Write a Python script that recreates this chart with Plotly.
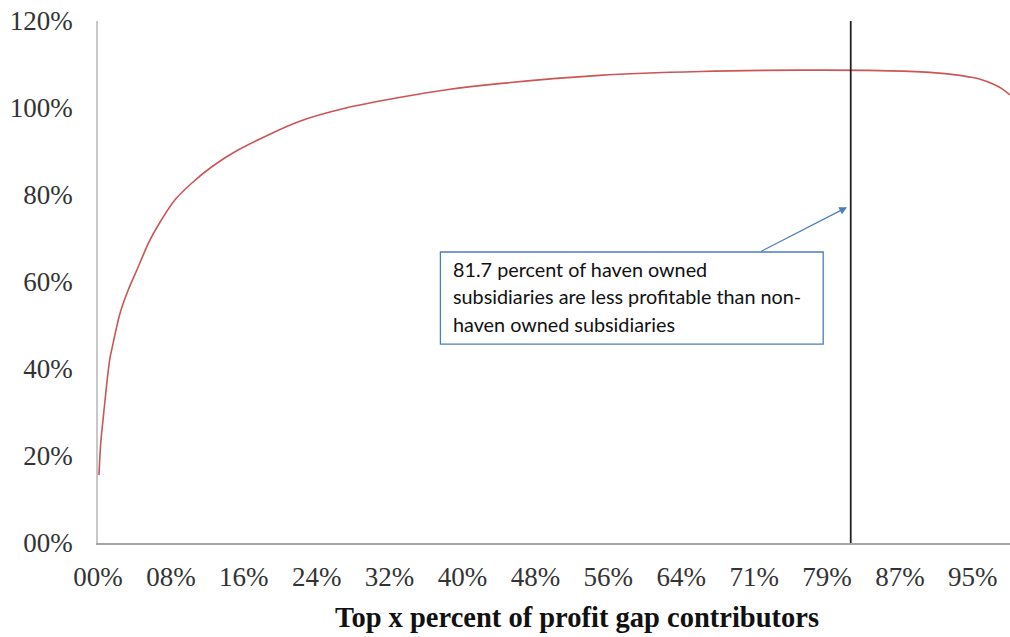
import plotly.graph_objects as go

# Data (x: top x percent of profit gap contributors, y: cumulative share in %)
x_pct = [0.1, 0.3, 0.58, 0.8, 1.0, 1.3, 1.49, 2.4, 3.3, 4.39, 5.48, 6.57, 8.39, 10.2, 12.4, 15.3,
         21.9, 27.0, 32.8, 38.0, 43.7, 54.6, 65.6, 76.4, 85.2, 90.6, 93.9, 95.0, 96.1, 97.5, 98.5, 99.35]
y_pct = [15.6, 23.0, 29.0, 33.5, 37.5, 42.5, 44.4, 52.8, 58.2, 63.5, 68.9, 73.1, 78.9, 82.7, 86.5, 90.4,
         96.9, 100.0, 102.4, 104.2, 105.6, 107.5, 108.4, 108.7, 108.6, 108.2, 107.5, 107.1, 106.6, 105.5, 104.4, 103.0]

x_tick_vals = [i * 7.942 for i in range(13)]
x_tick_text = ["00%", "08%", "16%", "24%", "32%", "40%", "48%", "56%", "64%", "71%", "79%", "87%", "95%"]
y_tick_vals = [0, 20, 40, 60, 80, 100, 120]
y_tick_text = ["00%", "20%", "40%", "60%", "80%", "100%", "120%"]

cutoff_x = 82.0
note_lines = ["81.7 percent of haven owned",
              "subsidiaries are less profitable than non-",
              "haven owned subsidiaries"]
x_title = "Top x percent of profit gap contributors"

serif = "Liberation Serif"

fig = go.Figure()
fig.add_trace(go.Scatter(x=x_pct, y=y_pct, mode="lines", line=dict(color="#CC5555", width=1.6,
                                                                    shape="spline", smoothing=0.8),
                         hoverinfo="skip", showlegend=False))

fig.add_shape(type="line", x0=cutoff_x, x1=cutoff_x, y0=0, y1=120, xref="x", yref="y",
              line=dict(color="#222222", width=1.8))

# annotation box
fig.add_shape(type="rect", x0=37.3, x1=79.0, y0=45.7, y1=66.9, xref="x", yref="y",
              line=dict(color="#4A7EBB", width=1.3), fillcolor="white", layer="above")
line_y = [63.0, 56.7, 50.3]
for txt, yy in zip(note_lines, line_y):
    fig.add_annotation(x=38.4, y=yy, xref="x", yref="y", text=txt, showarrow=False,
                       xanchor="left", yanchor="middle",
                       font=dict(family="Lato", size=19.8, color="#111111"))

# arrow
fig.add_annotation(x=81.6, y=77.2, ax=72.1, ay=66.9, xref="x", yref="y", axref="x", ayref="y",
                   text="", showarrow=True, arrowhead=2, arrowsize=1.2, arrowwidth=1.3,
                   arrowcolor="#4A7EBB")

fig.add_annotation(x=0.525, y=-0.142, xref="paper", yref="paper", text="<b>" + x_title + "</b>",
                   showarrow=False, xanchor="center", yanchor="middle",
                   font=dict(family=serif, size=28.5, color="#111111"))

fig.update_layout(
    width=1010, height=637,
    margin=dict(l=98, r=0, t=21, b=94),
    plot_bgcolor="white", paper_bgcolor="white",
    xaxis=dict(range=[0, 99.35], tickvals=x_tick_vals, ticktext=x_tick_text,
               showgrid=False, zeroline=False, showline=True, linecolor="#A6A6A6", linewidth=1.5,
               ticks="", ticklabelstandoff=9, ticklabeloverflow="allow",
               tickfont=dict(family=serif, size=27, color="#333333")),
    yaxis=dict(range=[0, 120], tickvals=y_tick_vals, ticktext=y_tick_text,
               showgrid=False, zeroline=False, showline=True, linecolor="#C8C8C8", linewidth=1.5,
               ticks="", ticklabelstandoff=18, ticklabeloverflow="allow",
               tickfont=dict(family=serif, size=27, color="#333333")),
)

fig.write_html("out.html", config={"displayModeBar": False},
               post_script="document.body.style.margin='0';document.body.style.overflow='hidden';")
